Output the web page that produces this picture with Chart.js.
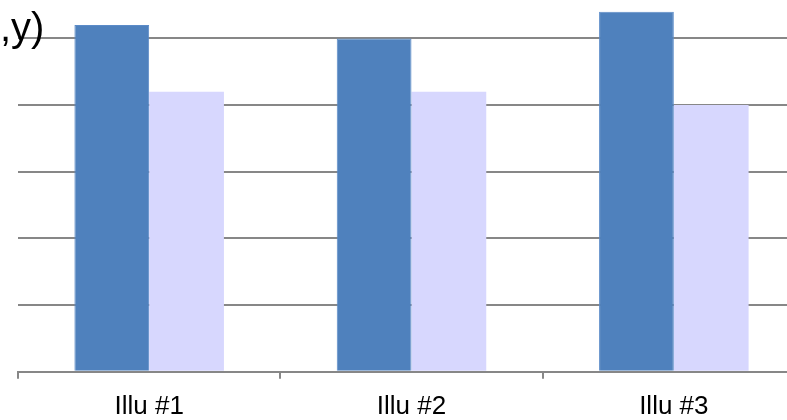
<!DOCTYPE html>
<html>
<head>
<meta charset="utf-8">
<script src="https://cdn.jsdelivr.net/npm/chart.js@4/dist/chart.umd.min.js"></script>
<style>
  html, body { margin: 0; padding: 0; background: #fff; overflow: hidden; width: 787px; height: 420px; }
  #wrap { position: absolute; left: 0; top: -40px; width: 805px; height: 474px; }
  #corner { position: absolute; left: 0; top: 7px; font-family: "Liberation Sans", "DejaVu Sans", sans-serif;
            font-size: 40px; line-height: 1; color: #000; white-space: nowrap; z-index: 2; }
</style>
</head>
<body>
<div id="corner">,y)</div>
<div id="wrap"><canvas id="c"></canvas></div>
<script>
// Categories and the two bar series
const categories = ['Illu #1', 'Illu #2', 'Illu #3'];
const seriesDark = [5.2, 5.0, 5.4];
const seriesLight = [4.2, 4.2, 4.0];
// Value axis range and gridline step
const yMin = 0;
const yMax = 6;
const yStep = 1;

const gridGray = '#878787';
const labelFont = { family: '"Liberation Sans Narrow", "Liberation Sans", sans-serif', size: 26 };

new Chart(document.getElementById('c'), {
  type: 'bar',
  data: {
    labels: categories,
    datasets: [
      { data: seriesDark, backgroundColor: '#4F81BD', borderColor: '#5B8BC8', borderWidth: 1,
        categoryPercentage: 0.57, barPercentage: 1.0 },
      { data: seriesLight, backgroundColor: '#D7D7FE', borderColor: '#D7D7FE', borderWidth: 0,
        categoryPercentage: 0.57, barPercentage: 1.0 }
    ]
  },
  options: {
    responsive: true,
    maintainAspectRatio: false,
    animation: false,
    layout: { padding: { left: 18, right: 0, top: 11.7, bottom: 0 } },
    plugins: { legend: { display: false }, tooltip: { enabled: false }, title: { display: false } },
    scales: {
      x: {
        grid: { drawOnChartArea: false, drawTicks: true, tickLength: 7, color: gridGray, lineWidth: 2, offset: true },
        border: { display: true, color: gridGray, width: 2 },
        ticks: { font: labelFont, color: '#000', padding: 12, maxRotation: 0 }
      },
      y: {
        min: yMin,
        max: yMax,
        ticks: { display: false, stepSize: yStep },
        grid: { color: gridGray, lineWidth: 2, drawTicks: false },
        border: { display: false }
      }
    }
  }
});
</script>
</body>
</html>
